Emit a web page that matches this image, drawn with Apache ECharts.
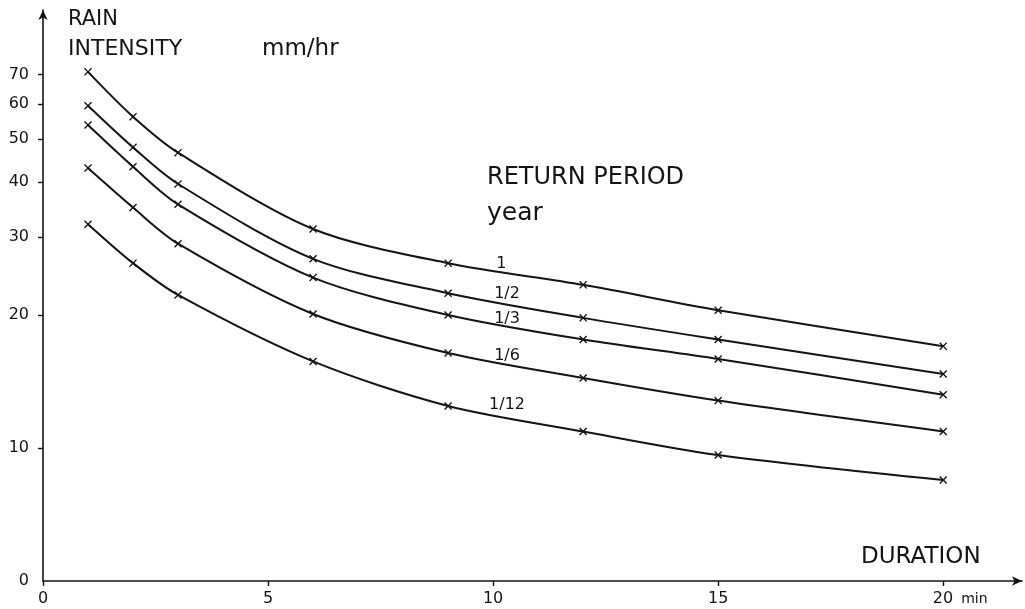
<!DOCTYPE html>
<html><head><meta charset="utf-8">
<script src="https://cdn.jsdelivr.net/npm/echarts@6/dist/echarts.min.js"></script>
<style>html,body{margin:0;padding:0;background:#fff}#c{width:1025px;height:609px}</style>
</head><body><div id="c"></div>
<script>
// ---- data ----
const durations = [1, 2, 3, 6, 9, 12, 15, 20];           // min
const returnPeriods = ['1', '1/2', '1/3', '1/6', '1/12']; // year
const rp1  = [71.0, 56.2, 46.6, 31.3, 26.2, 23.4, 20.5, 17.0];
const rp2  = [59.5, 47.9, 39.6, 26.8, 22.4, 19.7, 17.6, 14.7];
const rp3  = [53.8, 43.3, 35.6, 24.3, 20.0, 17.6, 15.9, 13.2];
const rp6  = [43.0, 35.0, 29.0, 20.1, 16.4, 14.4, 12.8, 10.9];
const rp12 = [32.1, 26.2, 22.2, 15.7, 12.45, 10.9, 9.64, 8.46];
const yLabelValues = [5, 10, 20, 30, 40, 50, 60, 70]; // 5 = axis origin, printed "0"
const yTickValues = [10, 20, 30, 40, 50, 60, 70];
const xTickValues = [0, 5, 10, 15, 20];

// ---- chart ----
const curves = [rp1, rp2, rp3, rp6, rp12];
const labelCoords = [[10.18, 26.1], [10.31, 22.3], [10.31, 19.6], [10.31, 16.2], [10.31, 12.5]];
const FONT = '"DejaVu Sans", sans-serif';
const INK = '#141414';
const crossPath = 'path://M0,1.2 L1.2,0 L5,3.8 L8.8,0 L10,1.2 L6.2,5 L10,8.8 L8.8,10 L5,6.2 L1.2,10 L0,8.8 L3.8,5 Z';

const chart = echarts.init(document.getElementById('c'), null, {renderer: 'canvas'});
chart.setOption({
  animation: false,
  backgroundColor: '#fff',
  grid: {left: 43, right: 3, top: 10, bottom: 28, containLabel: false},
  xAxis: {
    type: 'value', min: 0, max: 21.75,
    axisLine: {onZero: false, symbol: ['none', 'arrow'], symbolSize: [7, 10], lineStyle: {color: INK, width: 1.6}},
    axisTick: {customValues: xTickValues, length: 5, lineStyle: {color: INK, width: 1.4}},
    axisLabel: {
      customValues: xTickValues, margin: 10, color: INK, fontFamily: FONT, fontSize: 16,
      formatter: v => v === 20 ? '{p|}{n|20}{u|min}' : String(v),
      rich: {p: {width: 34}, n: {fontFamily: FONT, fontSize: 16, color: INK},
             u: {fontFamily: FONT, fontSize: 14, color: INK, padding: [0, 0, 0, 8]}}
    },
    splitLine: {show: false}
  },
  yAxis: {
    type: 'log', logBase: 10, min: 5, max: 98,
    axisLine: {onZero: false, symbol: ['none', 'arrow'], symbolSize: [7, 10], lineStyle: {color: INK, width: 1.6}},
    axisTick: {customValues: yTickValues, length: 5, lineStyle: {color: INK, width: 1.4}},
    axisLabel: {
      customValues: yLabelValues, margin: 14, color: INK, fontFamily: FONT, fontSize: 16,
      formatter: v => Math.abs(v - 5) < 1e-6 ? '0' : String(Math.round(v))
    },
    splitLine: {show: false}, minorSplitLine: {show: false}
  },
  series: curves.map((d, k) => ({
    type: 'line',
    name: returnPeriods[k],
    data: durations.map((x, j) => [x, d[j]]),
    smooth: 0.3,
    symbol: crossPath, symbolSize: 8, showAllSymbol: true,
    lineStyle: {color: INK, width: 2},
    itemStyle: {color: INK},
    emphasis: {disabled: true},
    markPoint: {
      symbol: 'circle', symbolSize: 0, silent: true,
      data: [{coord: labelCoords[k], value: returnPeriods[k]}],
      label: {show: true, position: 'inside', formatter: returnPeriods[k],
              color: INK, fontFamily: FONT, fontSize: 16}
    }
  })),
  graphic: [
    {type: 'text', x: 68, y: 20, style: {text: 'RAIN', fontFamily: FONT, fontSize: 21, fill: INK, verticalAlign: 'middle'}},
    {type: 'text', x: 68, y: 49, style: {text: 'INTENSITY', fontFamily: FONT, fontSize: 22, fill: INK, verticalAlign: 'middle'}},
    {type: 'text', x: 262, y: 49, style: {text: 'mm/hr', fontFamily: FONT, fontSize: 23, fill: INK, verticalAlign: 'middle'}},
    {type: 'text', x: 487, y: 178, style: {text: 'RETURN PERIOD', fontFamily: FONT, fontSize: 24, fill: INK, verticalAlign: 'middle'}},
    {type: 'text', x: 487, y: 213, style: {text: 'year', fontFamily: FONT, fontSize: 25, fill: INK, verticalAlign: 'middle'}},
    {type: 'text', x: 861, y: 557, style: {text: 'DURATION', fontFamily: FONT, fontSize: 23, fill: INK, verticalAlign: 'middle'}}
  ]
});
</script></body></html>
